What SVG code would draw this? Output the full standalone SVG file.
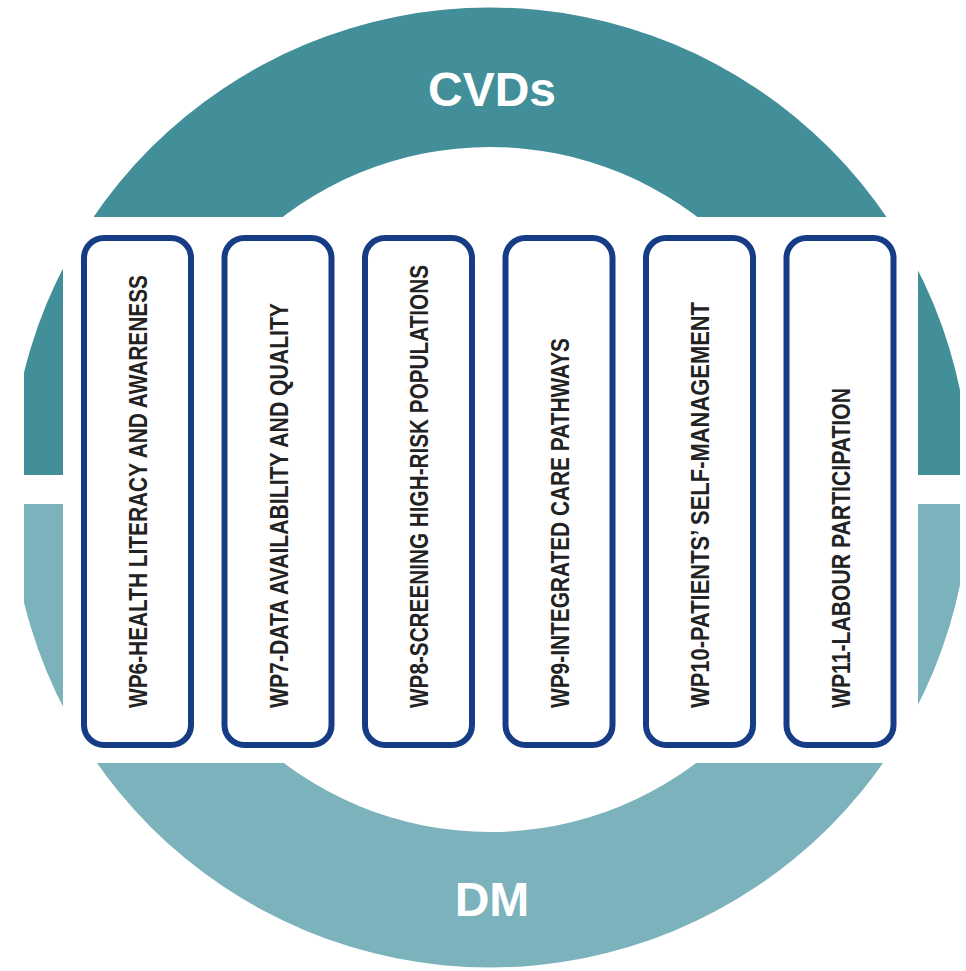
<svg xmlns="http://www.w3.org/2000/svg" width="966" height="971" viewBox="0 0 966 971">
  <style>
    .box { fill: #ffffff; stroke: #173c86; stroke-width: 6; }
    .lbl { font-family: "Liberation Sans", Arial, sans-serif; font-weight: bold; font-size: 26px; fill: #222222; }
    .big { font-family: "Liberation Sans", Arial, sans-serif; font-weight: bold; font-size: 48px; fill: #ffffff; text-anchor: middle; }
  </style>
  <defs>
    <clipPath id="clipTop"><rect x="24" y="0" width="936" height="475"/></clipPath>
    <clipPath id="clipBottom"><rect x="24" y="504" width="936" height="467"/></clipPath>
  </defs>
  <rect width="966" height="971" fill="#ffffff"/>
  <g id="ring">
    <circle cx="490" cy="487.5" r="480" fill="#438f99" clip-path="url(#clipTop)"/>
    <circle cx="490" cy="487.5" r="480" fill="#7bb2bb" clip-path="url(#clipBottom)"/>
    <circle cx="490" cy="489.5" r="342.5" fill="#ffffff"/>
    <rect x="63" y="217" width="855" height="546" fill="#ffffff"/>
  </g>
  <g id="cvds"><text class="big" x="492" y="106">CVDs</text></g>
  <g id="dm"><text class="big" x="492" y="916">DM</text></g>
  <g id="connectors"></g>
  <g id="wp6">
    <rect class="box" x="84" y="238" width="107" height="507" rx="20"/>
    <text class="lbl" transform="translate(147,708) rotate(-90)" textLength="433" lengthAdjust="spacingAndGlyphs">WP6-HEALTH LITERACY AND AWARENESS</text>
  </g>
  <g id="wp7">
    <rect class="box" x="224.5" y="238" width="107" height="507" rx="20"/>
    <text class="lbl" transform="translate(287.5,708) rotate(-90)" textLength="405" lengthAdjust="spacingAndGlyphs">WP7-DATA AVAILABILITY AND QUALITY</text>
  </g>
  <g id="wp8">
    <rect class="box" x="365" y="238" width="107" height="507" rx="20"/>
    <text class="lbl" transform="translate(428,708) rotate(-90)" textLength="443" lengthAdjust="spacingAndGlyphs">WP8-SCREENING HIGH-RISK POPULATIONS</text>
  </g>
  <g id="wp9">
    <rect class="box" x="505.5" y="238" width="107" height="507" rx="20"/>
    <text class="lbl" transform="translate(568.5,708) rotate(-90)" textLength="370" lengthAdjust="spacingAndGlyphs">WP9-INTEGRATED CARE PATHWAYS</text>
  </g>
  <g id="wp10">
    <rect class="box" x="646" y="238" width="107" height="507" rx="20"/>
    <text class="lbl" transform="translate(709,708) rotate(-90)" textLength="406" lengthAdjust="spacingAndGlyphs">WP10-PATIENTS’ SELF-MANAGEMENT</text>
  </g>
  <g id="wp11">
    <rect class="box" x="786.5" y="238" width="107" height="507" rx="20"/>
    <text class="lbl" transform="translate(849.5,708) rotate(-90)" textLength="320" lengthAdjust="spacingAndGlyphs">WP11-LABOUR PARTICIPATION</text>
  </g>
</svg>
